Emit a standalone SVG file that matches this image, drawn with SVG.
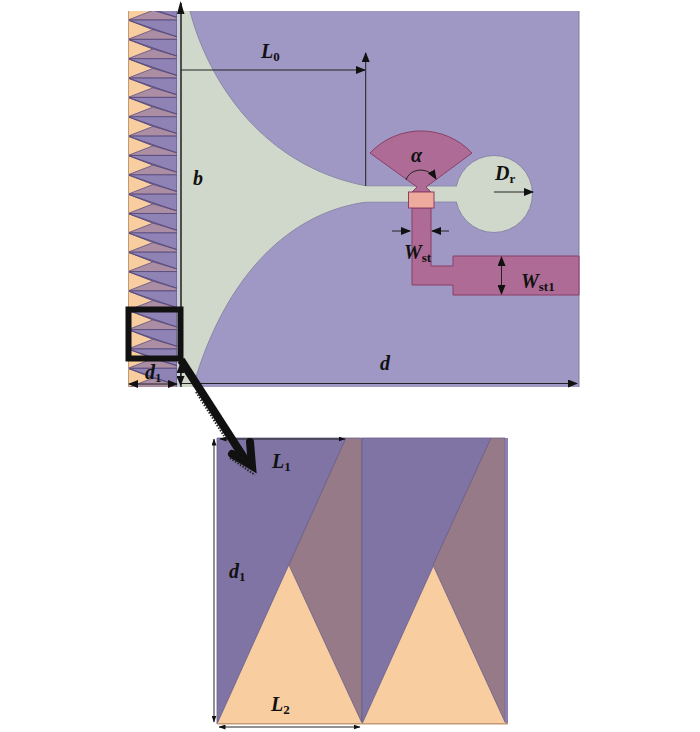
<svg xmlns="http://www.w3.org/2000/svg" xmlns:xlink="http://www.w3.org/1999/xlink" width="700" height="732" viewBox="0 0 700 732">
<style>
text{font-family:"Liberation Serif","Times New Roman",serif;fill:#111;font-size:20px}
.i{font-style:italic;font-weight:bold}
.s{font-size:13px;font-weight:bold;font-style:normal}
.dim{fill:none;stroke:#222;stroke-width:1}
.p{fill:#8f83b5;stroke:#5c4f80;stroke-width:1}
.m{fill:#ab8ea4;stroke:#5c4f80;stroke-width:.8}
.o{fill:#f8cd9f;stroke:none}
.ip{fill:#7f74a3;stroke:#6a5f8d;stroke-width:.8}
.im{fill:#977a88;stroke:#6a5f8d;stroke-width:.8}
.strip{fill:#ad6b96;stroke:#8a3f66;stroke-width:1}
</style>
<defs>
<marker id="a" markerWidth="10" markerHeight="8" refX="9" refY="4" orient="auto-start-reverse" markerUnits="userSpaceOnUse"><path d="M0 0L10 4L0 8Z" fill="#111"/></marker>
<marker id="b" markerWidth="7" markerHeight="5" refX="6.5" refY="2.5" orient="auto-start-reverse" markerUnits="userSpaceOnUse"><path d="M0 0L7 2.5L0 5Z" fill="#111"/></marker>
<clipPath id="sc"><rect x="128" y="11" width="49" height="376"/></clipPath>
<g id="cell">
<path class="o" d="M128 0L153 9.7L128 19.35Z"/>
<path class="p" d="M128 0H177V16.800L153 9.7Z"/>
<path class="m" d="M128 19.35L153 9.7L177 16.800V19.35Z"/>
<path d="M128 0L177 16.800" fill="none" stroke="#5c4f80" stroke-width="1"/>
</g>
</defs>
<g id="array" clip-path="url(#sc)">
<rect x="128" y="11" width="49" height="376" fill="#f8cd9f"/>
<use xlink:href="#cell" href="#cell" y="0.65"/>
<use xlink:href="#cell" href="#cell" y="20"/>
<use xlink:href="#cell" href="#cell" y="39.35"/>
<use xlink:href="#cell" href="#cell" y="58.7"/>
<use xlink:href="#cell" href="#cell" y="78.05"/>
<use xlink:href="#cell" href="#cell" y="97.4"/>
<use xlink:href="#cell" href="#cell" y="116.75"/>
<use xlink:href="#cell" href="#cell" y="136.1"/>
<use xlink:href="#cell" href="#cell" y="155.45"/>
<use xlink:href="#cell" href="#cell" y="174.8"/>
<use xlink:href="#cell" href="#cell" y="194.15"/>
<use xlink:href="#cell" href="#cell" y="213.5"/>
<use xlink:href="#cell" href="#cell" y="232.85"/>
<use xlink:href="#cell" href="#cell" y="252.2"/>
<use xlink:href="#cell" href="#cell" y="271.55"/>
<use xlink:href="#cell" href="#cell" y="290.9"/>
<use xlink:href="#cell" href="#cell" y="310.25"/>
<use xlink:href="#cell" href="#cell" y="329.6"/>
<use xlink:href="#cell" href="#cell" y="348.95"/>
<use xlink:href="#cell" href="#cell" y="368.3"/>
<rect x="127.5" y="11" width="1.5" height="376" fill="#c49a74"/>
</g>
<g id="ground">
<rect x="177" y="11" width="4" height="376" fill="#c9cdd6"/>
<rect x="181" y="11" width="398" height="376" fill="#9f97c4"/>
<path d="M181 11H190C205 70 255 165 367 186H410V202H367C290 212 225 275 193 387H181Z" fill="#d0d8cb" stroke="none"/>
<path d="M190 11C205 70 255 165 367 186H457M193 387C225 275 290 212 367 202H457" fill="none" stroke="#8a88a8" stroke-width="1"/>
<circle cx="494" cy="194" r="38.5" fill="#d0d8cb" stroke="#8a88a8" stroke-width="1"/>
<rect x="365" y="186.5" width="100" height="15" fill="#d0d8cb"/>
<rect x="578.5" y="11" width="1" height="376" fill="#80809a"/>
</g>
<g id="feed">
<path class="strip" d="M370 153A70 70 0 0 1 472 153L426 187L431 192H412L417 187Z"/>
<path class="strip" d="M412 208H431V266H453V256H579V295H453V285H412Z"/>
<rect x="408.5" y="192" width="25.5" height="16" fill="#eeaa9c" stroke="#8a3f66" stroke-width="1"/>
</g>
<g id="inset">
<rect x="217" y="438" width="290" height="286" fill="#f8cda0"/>
<path class="ip" d="M217 438H346L217 724Z"/>
<path class="im" d="M346 438H361.500V722L289 565Z"/>
<path class="ip" d="M362 438H491L362 724Z"/>
<path class="im" d="M491 438H505V722L433 565Z"/>
<rect x="505" y="438" width="3" height="286" fill="#8a7eb4"/>
<rect x="217" y="723" width="291" height="1.500" fill="#c49a74"/>
</g>
<g id="connectors">
<path d="M181 387V3" stroke="#222" stroke-width="1.5" fill="none"/>
<path d="M177 14L180.5 1L184.500 14Z" fill="#111"/>
<path class="dim" d="M181 70H365" marker-end="url(#a)" stroke-width="1.2"/>
<path class="dim" d="M365.700 186V53" marker-end="url(#a)"/>
<path class="dim" d="M181 383.500H577" marker-end="url(#a)"/>
<path class="dim" d="M129 384H177" marker-start="url(#a)" marker-end="url(#a)"/>
<path class="dim" d="M180.500 364V385" marker-start="url(#a)" marker-end="url(#a)"/>
<path class="dim" d="M494 192H533" marker-end="url(#a)"/>
<path class="dim" d="M392 231H410" marker-end="url(#a)"/>
<path class="dim" d="M449 231H432" marker-end="url(#a)"/>
<path class="dim" d="M501.500 257V294" marker-start="url(#a)" marker-end="url(#a)"/>
<path class="dim" d="M406 180C410 168 428 166 436 179" marker-end="url(#a)"/>
<path class="dim" d="M214 439V722" marker-start="url(#b)" marker-end="url(#b)"/>
<path class="dim" d="M220 439H345" marker-start="url(#b)" marker-end="url(#b)"/>
<path class="dim" d="M219 727H360" marker-start="url(#b)" marker-end="url(#b)"/>
<rect x="128.500" y="309.500" width="52" height="49" fill="none" stroke="#111" stroke-width="6"/>
<path d="M181 360L248 464" stroke="#111" stroke-width="8" fill="none"/>
<path d="M232 454L252 466L250 442" stroke="#111" stroke-width="8" fill="none" stroke-linecap="round"/>
<path d="M196 392L224 436M230 458L255 475" stroke="#222" stroke-width="2" stroke-dasharray="1.500 1.500" fill="none"/>
</g>
<g id="labels">
<text class="i" x="261" y="58">L<tspan class="s" dy="3">0</tspan></text>
<text class="i" x="193" y="185">b</text>
<text class="i" x="411" y="162" font-size="21">α</text>
<text class="i" x="495" y="180">D<tspan class="s" dy="3">r</tspan></text>
<text class="i" x="404" y="259">W<tspan class="s" dy="3">st</tspan></text>
<text class="i" x="521" y="288">W<tspan class="s" dy="3">st1</tspan></text>
<text class="i" x="380" y="370">d</text>
<text class="i" x="145" y="379">d<tspan class="s" dy="3">1</tspan></text>
<text class="i" x="272" y="468">L<tspan class="s" dy="3">1</tspan></text>
<text class="i" x="229" y="578">d<tspan class="s" dy="3">1</tspan></text>
<text class="i" x="271" y="711">L<tspan class="s" dy="3">2</tspan></text>
</g>
</svg>
